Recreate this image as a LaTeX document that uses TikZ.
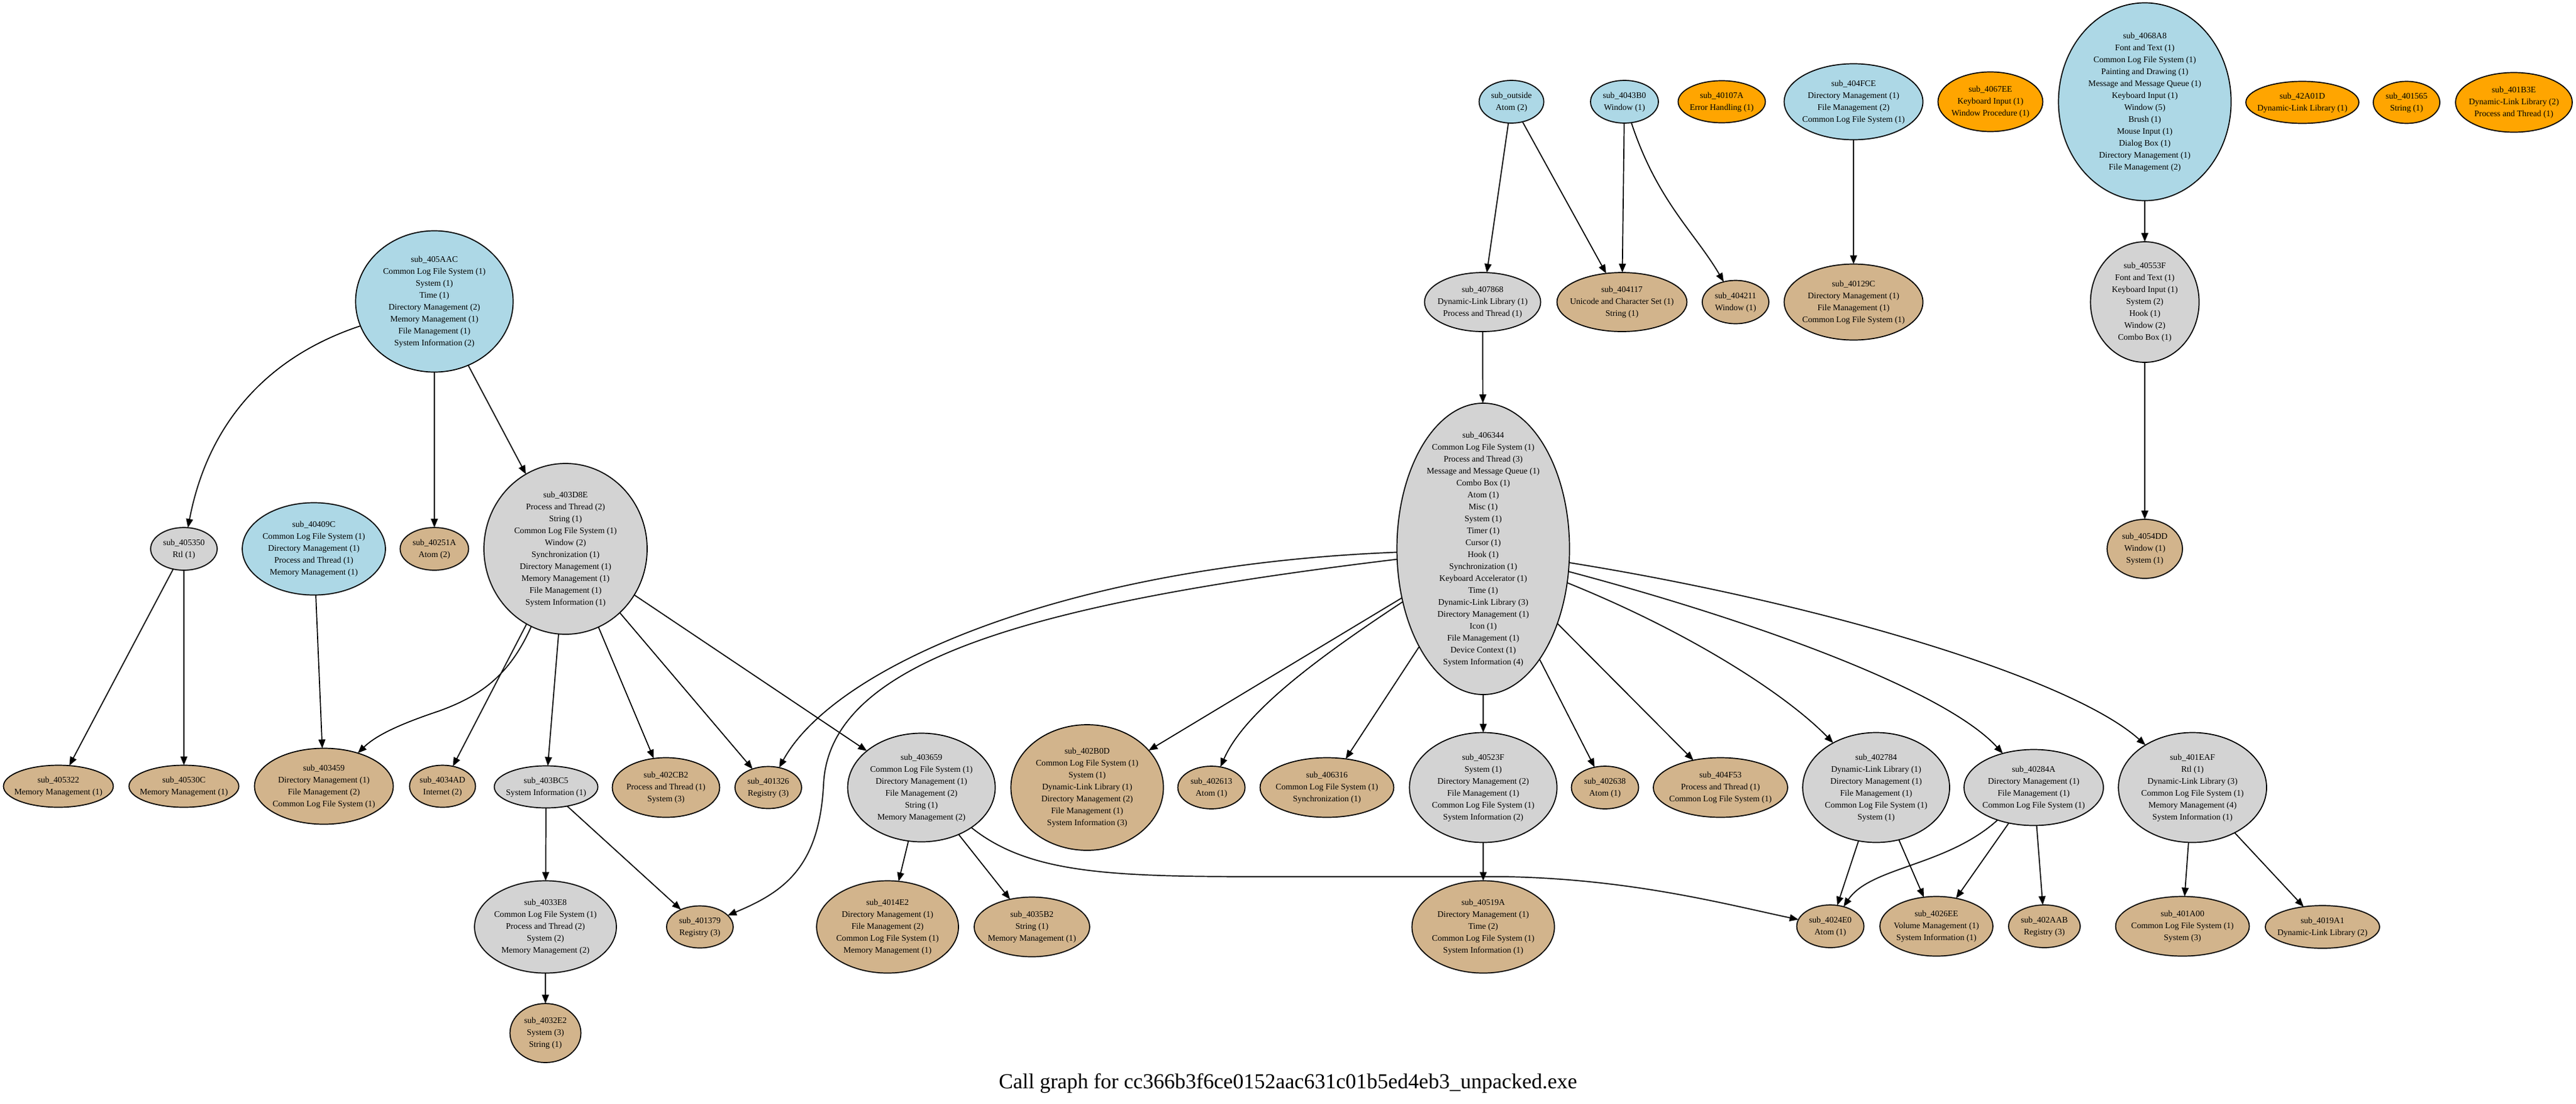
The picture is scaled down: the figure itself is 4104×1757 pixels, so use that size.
\documentclass[tikz,border=0pt]{standalone}
\usepackage{fontspec}
\setmainfont{Liberation Serif}
\usetikzlibrary{shapes.geometric,arrows.meta}
\definecolor{cBlue}{HTML}{ADD8E6}
\definecolor{cGray}{HTML}{D3D3D3}
\definecolor{cTan}{HTML}{D2B48C}
\definecolor{cOrange}{HTML}{FFA500}
\newcommand{\ntxt}[1]{\smash{\makebox[0pt]{\raisebox{-1.6pt}{\begin{tabular}{@{}c@{}}#1\end{tabular}}}}}
\begin{document}
\begin{tikzpicture}[x=0.5pt,y=-0.5pt,
  fn/.style={ellipse,draw=black,line width=0.85pt,inner sep=0pt,outer sep=0pt,font=\fontsize{6.8}{9.5}\selectfont},
  nB/.style={fn,fill=cBlue},
  nG/.style={fn,fill=cGray},
  nT/.style={fn,fill=cTan},
  nO/.style={fn,fill=cOrange},
  wh/.style 2 args={minimum width=#1pt,minimum height=#2pt},
  arr/.style={draw=black,line width=0.85pt,-{Triangle[length=7pt,width=5.5pt]}}]
\useasboundingbox (0,0) rectangle (4104,1757);

% row 0
\node[nB,wh={51.5}{34}] (noutside) at (2408,162) {\ntxt{sub\_outside\\Atom (2)}};
\node[nB,wh={54}{34}] (n4043B0) at (2588,162) {\ntxt{sub\_4043B0\\Window (1)}};
\node[nO,wh={69.5}{33.5}] (n40107A) at (2743,162) {\ntxt{sub\_40107A\\Error Handling (1)}};
\node[nB,wh={110.5}{60.5}] (n404FCE) at (2953,162) {\ntxt{sub\_404FCE\\Directory Management (1)\\File Management (2)\\Common Log File System (1)}};
\node[nO,wh={83.5}{47.5}] (n4067EE) at (3171,162) {\ntxt{sub\_4067EE\\Keyboard Input (1)\\Window Procedure (1)}};
\node[nB,wh={137.5}{157.5}] (n4068A8) at (3417,162) {\ntxt{sub\_4068A8\\Font and Text (1)\\Common Log File System (1)\\Painting and Drawing (1)\\Message and Message Queue (1)\\Keyboard Input (1)\\Window (5)\\Brush (1)\\Mouse Input (1)\\Dialog Box (1)\\Directory Management (1)\\File Management (2)}};
\node[nO,wh={90}{33.5}] (n42A01D) at (3668,163) {\ntxt{sub\_42A01D\\Dynamic-Link Library (1)}};
\node[nO,wh={53}{33.5}] (n401565) at (3834,163) {\ntxt{sub\_401565\\String (1)}};
\node[nO,wh={93}{47.5}] (n401B3E) at (4005,163) {\ntxt{sub\_401B3E\\Dynamic-Link Library (2)\\Process and Thread (1)}};

% row 1
\node[nB,wh={125.5}{112.5}] (n405AAC) at (692,480) {\ntxt{sub\_405AAC\\Common Log File System (1)\\System (1)\\Time (1)\\Directory Management (2)\\Memory Management (1)\\File Management (1)\\System Information (2)}};
\node[nG,wh={92.5}{47}] (n407868) at (2362,481) {\ntxt{sub\_407868\\Dynamic-Link Library (1)\\Process and Thread (1)}};
\node[nT,wh={103.5}{47}] (n404117) at (2584,481) {\ntxt{sub\_404117\\Unicode and Character Set (1)\\String (1)}};
\node[nT,wh={53}{34.5}] (n404211) at (2765,481) {\ntxt{sub\_404211\\Window (1)}};
\node[nT,wh={110.5}{60.5}] (n40129C) at (2953,481) {\ntxt{sub\_40129C\\Directory Management (1)\\File Management (1)\\Common Log File System (1)}};
\node[nG,wh={86.5}{96}] (n40553F) at (3417,481) {\ntxt{sub\_40553F\\Font and Text (1)\\Keyboard Input (1)\\System (2)\\Hook (1)\\Window (2)\\Combo Box (1)}};

% row 2
\node[nG,wh={53}{34}] (n405350) at (293,874) {\ntxt{sub\_405350\\Rtl (1)}};
\node[nB,wh={114}{73.5}] (n40409C) at (500,874) {\ntxt{sub\_40409C\\Common Log File System (1)\\Directory Management (1)\\Process and Thread (1)\\Memory Management (1)}};
\node[nT,wh={54.5}{34}] (n40251A) at (692,874) {\ntxt{sub\_40251A\\Atom (2)}};
\node[nG,wh={130}{136}] (n403D8E) at (901,874) {\ntxt{sub\_403D8E\\Process and Thread (2)\\String (1)\\Common Log File System (1)\\Window (2)\\Synchronization (1)\\Directory Management (1)\\Memory Management (1)\\File Management (1)\\System Information (1)}};
\node[nG,wh={137.5}{232}] (n406344) at (2363,874) {\ntxt{sub\_406344\\Common Log File System (1)\\Process and Thread (3)\\Message and Message Queue (1)\\Combo Box (1)\\Atom (1)\\Misc (1)\\System (1)\\Timer (1)\\Cursor (1)\\Hook (1)\\Synchronization (1)\\Keyboard Accelerator (1)\\Time (1)\\Dynamic-Link Library (3)\\Directory Management (1)\\Icon (1)\\File Management (1)\\Device Context (1)\\System Information (4)}};
\node[nT,wh={60}{47}] (n4054DD) at (3417,874) {\ntxt{sub\_4054DD\\Window (1)\\System (1)}};

% row 3
\node[nT,wh={87.5}{33.5}] (n405322) at (93,1252) {\ntxt{sub\_405322\\Memory Management (1)}};
\node[nT,wh={87.5}{33.5}] (n40530C) at (293,1252) {\ntxt{sub\_40530C\\Memory Management (1)}};
\node[nT,wh={110.5}{60.5}] (n403459) at (516,1252) {\ntxt{sub\_403459\\Directory Management (1)\\File Management (2)\\Common Log File System (1)}};
\node[nT,wh={52.5}{33.5}] (n4034AD) at (705,1252) {\ntxt{sub\_4034AD\\Internet (2)}};
\node[nG,wh={82.5}{33.5}] (n403BC5) at (870,1253) {\ntxt{sub\_403BC5\\System Information (1)}};
\node[nT,wh={85.5}{47.5}] (n402CB2) at (1061,1254) {\ntxt{sub\_402CB2\\Process and Thread (1)\\System (3)}};
\node[nT,wh={53}{33.5}] (n401326) at (1224,1254) {\ntxt{sub\_401326\\Registry (3)}};
\node[nG,wh={117.5}{86.5}] (n403659) at (1468,1254) {\ntxt{sub\_403659\\Common Log File System (1)\\Directory Management (1)\\File Management (2)\\String (1)\\Memory Management (2)}};
\node[nT,wh={121.5}{100}] (n402B0D) at (1732,1254) {\ntxt{sub\_402B0D\\Common Log File System (1)\\System (1)\\Dynamic-Link Library (1)\\Directory Management (2)\\File Management (1)\\System Information (3)}};
\node[nT,wh={53.5}{34}] (n402613) at (1930,1254) {\ntxt{sub\_402613\\Atom (1)}};
\node[nT,wh={106.5}{47.5}] (n406316) at (2114,1254) {\ntxt{sub\_406316\\Common Log File System (1)\\Synchronization (1)}};
\node[nG,wh={117.5}{87.5}] (n40523F) at (2363,1254) {\ntxt{sub\_40523F\\System (1)\\Directory Management (2)\\File Management (1)\\Common Log File System (1)\\System Information (2)}};
\node[nT,wh={53.5}{34}] (n402638) at (2557,1254) {\ntxt{sub\_402638\\Atom (1)}};
\node[nT,wh={107}{47.5}] (n404F53) at (2741,1254) {\ntxt{sub\_404F53\\Process and Thread (1)\\Common Log File System (1)}};
\node[nG,wh={117}{87.5}] (n402784) at (2989,1254) {\ntxt{sub\_402784\\Dynamic-Link Library (1)\\Directory Management (1)\\File Management (1)\\Common Log File System (1)\\System (1)}};
\node[nG,wh={111}{60.5}] (n40284A) at (3240,1254) {\ntxt{sub\_40284A\\Directory Management (1)\\File Management (1)\\Common Log File System (1)}};
\node[nG,wh={118}{87.5}] (n401EAF) at (3493,1254) {\ntxt{sub\_401EAF\\Rtl (1)\\Dynamic-Link Library (3)\\Common Log File System (1)\\Memory Management (4)\\System Information (1)}};

% row 4
\node[nG,wh={113}{73.5}] (n4033E8) at (869,1476) {\ntxt{sub\_4033E8\\Common Log File System (1)\\Process and Thread (2)\\System (2)\\Memory Management (2)}};
\node[nT,wh={53}{33.5}] (n401379) at (1115,1476) {\ntxt{sub\_401379\\Registry (3)}};
\node[nT,wh={113}{73.5}] (n4014E2) at (1414,1476) {\ntxt{sub\_4014E2\\Directory Management (1)\\File Management (2)\\Common Log File System (1)\\Memory Management (1)}};
\node[nT,wh={92}{47.5}] (n4035B2) at (1644,1476) {\ntxt{sub\_4035B2\\String (1)\\Memory Management (1)}};
\node[nT,wh={113.5}{73.5}] (n40519A) at (2363,1476) {\ntxt{sub\_40519A\\Directory Management (1)\\Time (2)\\Common Log File System (1)\\System Information (1)}};
\node[nT,wh={53.5}{34}] (n4024E0) at (2916,1475) {\ntxt{sub\_4024E0\\Atom (1)}};
\node[nT,wh={90}{47.5}] (n4026EE) at (3085,1475) {\ntxt{sub\_4026EE\\Volume Management (1)\\System Information (1)}};
\node[nT,wh={57}{34}] (n402AAB) at (3257,1475) {\ntxt{sub\_402AAB\\Registry (3)}};
\node[nT,wh={106.5}{47.5}] (n401A00) at (3477,1475) {\ntxt{sub\_401A00\\Common Log File System (1)\\System (3)}};
\node[nT,wh={91}{34}] (n4019A1) at (3700,1476) {\ntxt{sub\_4019A1\\Dynamic-Link Library (2)}};

% row 5
\node[nT,wh={56.5}{47}] (n4032E2) at (869,1645) {\ntxt{sub\_4032E2\\System (3)\\String (1)}};

% title
\node[font=\fontsize{17}{20}\selectfont,inner sep=0pt] (title) at (2052,1725) {Call graph for cc366b3f6ce0152aac631c01b5ed4eb3\_unpacked.exe};

% edges
\draw[arr] (noutside) -- (n407868);
\draw[arr] (noutside) -- (n404117);
\draw[arr] (n4043B0) -- (n404117);
\draw[arr] (n4043B0) .. controls (2640,320) and (2700,370) .. (n404211);
\draw[arr] (n404FCE) -- (n40129C);
\draw[arr] (n4068A8) -- (n40553F);
\draw[arr] (n40553F) -- (n4054DD);
\draw[arr] (n407868) -- (n406344);

\draw[arr] (n405AAC) .. controls (420,570) and (330,680) .. (n405350);
\draw[arr] (n405AAC) -- (n40251A);
\draw[arr] (n405AAC) -- (n403D8E);
\draw[arr] (n405350) -- (n405322);
\draw[arr] (n405350) -- (n40530C);
\draw[arr] (n40409C) -- (n403459);

\draw[arr] (n403D8E) .. controls (810,1080) and (760,1110) .. (700,1132) .. controls (640,1152) and (600,1170) .. (n403459);
\draw[arr] (n403D8E) -- (n4034AD);
\draw[arr] (n403D8E) -- (n403BC5);
\draw[arr] (n403D8E) -- (n402CB2);
\draw[arr] (n403D8E) -- (n401326);
\draw[arr] (n403D8E) -- (n403659);

\draw[arr] (n403BC5) -- (n4033E8);
\draw[arr] (n403BC5) -- (n401379);
\draw[arr] (n4033E8) -- (n4032E2);
\draw[arr] (n403659) -- (n4014E2);
\draw[arr] (n403659) -- (n4035B2);
\draw[arr] (n403659) .. controls (1650,1400) and (1800,1396) .. (2100,1396) -- (2400,1396) .. controls (2600,1400) and (2750,1440) .. (n4024E0);

\draw[arr] (n406344) .. controls (1700,900) and (1330,1060) .. (n401326);
\draw[arr] (n406344) .. controls (1650,960) and (1320,1050) .. (1312,1250) .. controls (1305,1380) and (1250,1420) .. (n401379);
\draw[arr] (n406344) -- (n402B0D);
\draw[arr] (n406344) .. controls (2080,1060) and (1980,1140) .. (n402613);
\draw[arr] (n406344) -- (n406316);
\draw[arr] (n406344) -- (n40523F);
\draw[arr] (n406344) -- (n402638);
\draw[arr] (n406344) -- (n404F53);
\draw[arr] (n406344) .. controls (2700,1010) and (2850,1110) .. (n402784);
\draw[arr] (n406344) .. controls (2800,990) and (3100,1100) .. (n40284A);
\draw[arr] (n406344) .. controls (2900,960) and (3300,1080) .. (n401EAF);

\draw[arr] (n40523F) -- (n40519A);
\draw[arr] (n402784) -- (n4024E0);
\draw[arr] (n402784) -- (n4026EE);
\draw[arr] (n40284A) .. controls (3100,1380) and (2980,1380) .. (n4024E0);
\draw[arr] (n40284A) -- (n4026EE);
\draw[arr] (n40284A) -- (n402AAB);
\draw[arr] (n401EAF) -- (n401A00);
\draw[arr] (n401EAF) -- (n4019A1);
\end{tikzpicture}
\end{document}
